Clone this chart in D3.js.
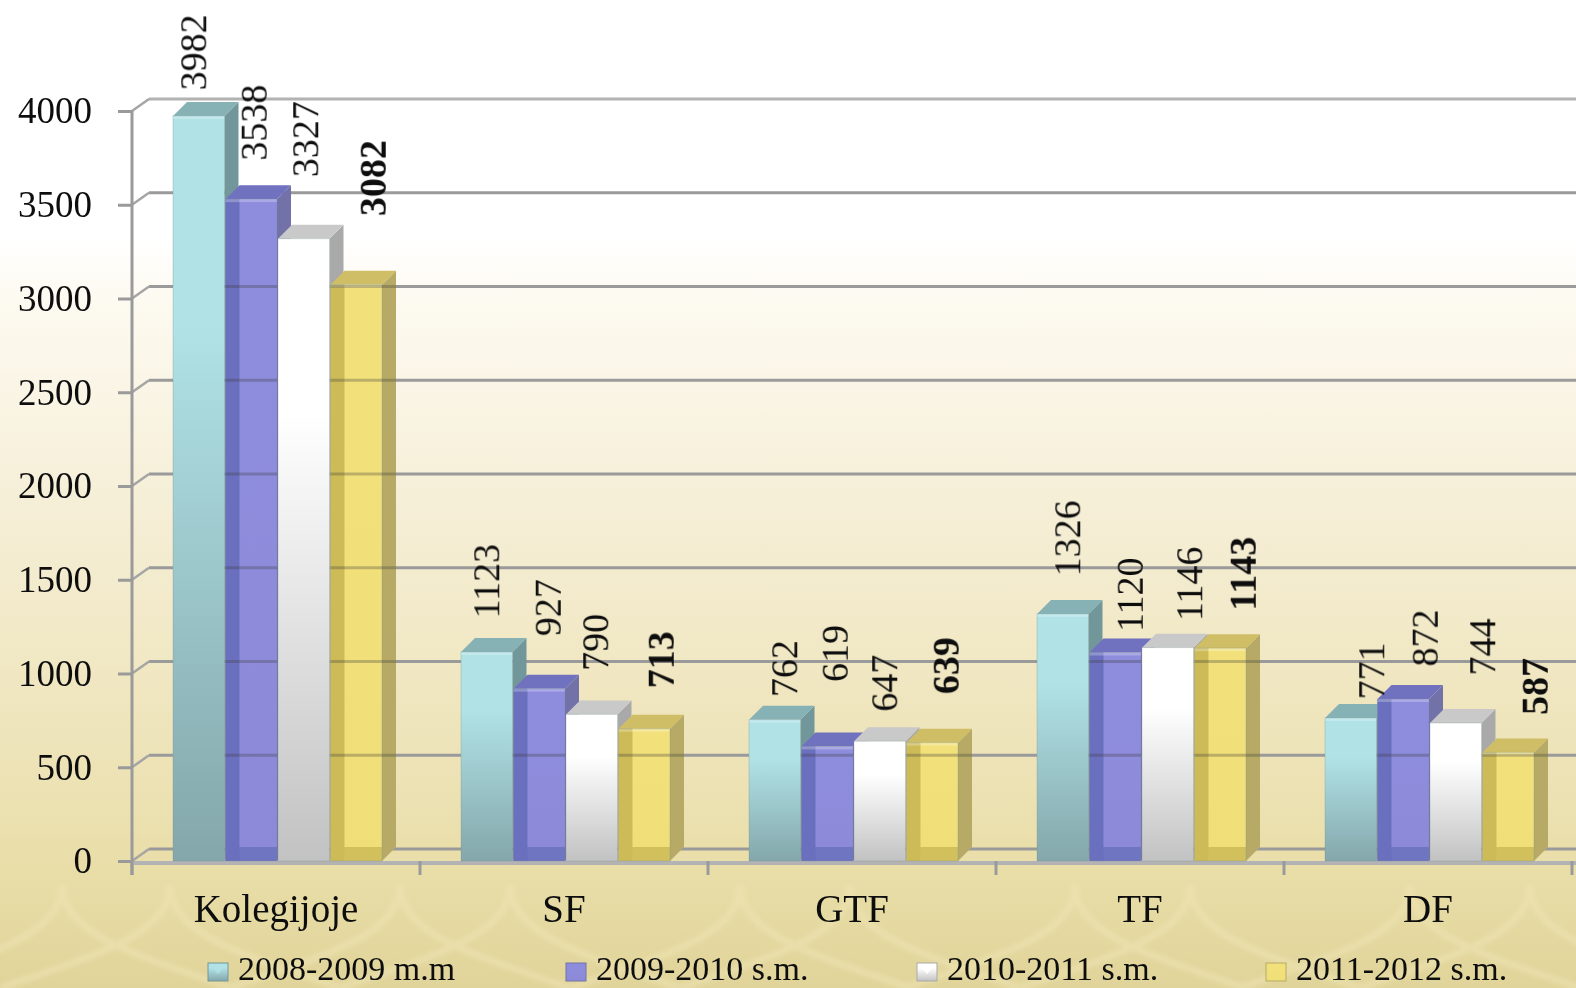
<!DOCTYPE html>
<html><head><meta charset="utf-8">
<script src="https://cdn.jsdelivr.net/npm/d3@7/dist/d3.min.js"></script>
<style>html,body{margin:0;padding:0;background:#fff;overflow:hidden}svg{display:block}text{font-family:"Liberation Serif",serif;fill:#111}</style>
</head><body><svg id="c" width="1576" height="988"></svg>
<script>
const categories=["Kolegijoje","SF","GTF","TF","DF"];
const seriesNames=["2008-2009 m.m","2009-2010 s.m.","2010-2011 s.m.","2011-2012 s.m."];
const values2008=[3982,1123,762,1326,771];
const values2009=[3538,927,619,1120,872];
const values2010=[3327,790,647,1146,744];
const values2011=[3082,713,639,1143,587];
const yTicks=[0,500,1000,1500,2000,2500,3000,3500,4000];
const allValues=[values2008,values2009,values2010,values2011];

// layout only: hand-placed label nudges as in the reference (per series, per category)
const labelDx=[[-6,-1,9,4,20],[2,8,7,14,21],[1,3,4,21,26],[16,16,13,22,26]];
const labelGap=[[10,18,7,22,3],[23,37,49,5,17],[46,28,14,11,32],[53,25,33,22,22]];
const looks=[
 {top:"#86b2b5",side:"#72979a",strip:null,a:"#b0e2e6",b:"#84a7ab"},
 {top:"#6f71bf",side:"#7372a8",strip:"#6a70bd",a:"#8e8cdc",b:"#8c8ad8"},
 {top:"#c9c9c9",side:"#a9a9a9",strip:null,a:"#ffffff",b:"#c2c2c2"},
 {top:"#cfbe66",side:"#b7aa66",strip:"#cdbb58",a:"#f2e07a",b:"#f0de78",bold:true}
];

const svg=d3.select("#c"), W=1576, H=988;
const defs=svg.append("defs");
const bg=defs.append("linearGradient").attr("id","bg").attr("x1",0).attr("x2",0).attr("y1",0).attr("y2",1);
[[0,"#ffffff"],[.24,"#ffffff"],[.3,"#fdfaf1"],[.5,"#f6efd8"],[.75,"#eee4ba"],[.88,"#e9dea8"],[1,"#e0d49a"]]
 .forEach(s=>bg.append("stop").attr("offset",s[0]).attr("stop-color",s[1]));
looks.forEach((l,i)=>{
 const g=defs.append("linearGradient").attr("id","f"+i).attr("x1",0).attr("x2",0).attr("y1",0).attr("y2",1);
 g.append("stop").attr("offset",0).attr("stop-color",l.a);
 g.append("stop").attr("offset",.28).attr("stop-color",l.a);
 g.append("stop").attr("offset",1).attr("stop-color",l.b);
});
const mkBlur=(id,sd)=>defs.append("filter").attr("id",id).attr("x","-5%").attr("y","-5%").attr("width","110%").attr("height","110%").append("feGaussianBlur").attr("stdDeviation",sd);
mkBlur("soft",.55); mkBlur("barSoft",.7); mkBlur("wide",2.2);

svg.append("rect").attr("width",W).attr("height",H).attr("fill","url(#bg)");

// faint gothic-arch backdrop pattern
const arches=svg.append("g").attr("fill","none").attr("stroke","#f0e6b6").attr("stroke-width",7).attr("opacity",.5).attr("filter","url(#wide)");
[170,510,850,1190,1530,62,400,740,1075,1410].forEach(x=>{
 arches.append("path").attr("d",`M${x} 885 C${x} 935 ${x-75} 955 ${x-170} 988`);
 arches.append("path").attr("d",`M${x} 885 C${x} 935 ${x+75} 955 ${x+170} 988`);
});

const y=d3.scaleLinear().domain([0,4000]).range([861,111]);
const x0=d3.scaleBand().domain(categories).range([132,1572]);
const x1=d3.scaleBand().domain(seriesNames).range([41,251]);
const dx=17, dy=-12, bdx=14, bdy=-14, barDrop=1.5;

// walls and axes
const grid=svg.append("g");
grid.selectAll("line.g").data(yTicks).join("line").attr("class","g")
 .attr("x1",132+dx).attr("x2",W).attr("y1",d=>y(d)+dy).attr("y2",d=>y(d)+dy)
 .attr("stroke",d=>d===4000?"#b2b2b2":"#9a9a9a").attr("stroke-width",3);
grid.selectAll("line.d").data(yTicks).join("line").attr("class","d")
 .attr("x1",132).attr("x2",132+dx).attr("y1",d=>y(d)).attr("y2",d=>y(d)+dy)
 .attr("stroke","#a5a5a5").attr("stroke-width",2.5);

const yAxis=d3.axisLeft(y).tickValues(yTicks).tickSize(14).tickPadding(26).tickFormat(d3.format("d"));
const xAxis=d3.axisBottom(x0).tickSize(0).tickPadding(31);
const ya=svg.append("g").attr("transform","translate(132,0)").call(yAxis);
ya.select(".domain").attr("stroke","#9a9a9a").attr("stroke-width",3).attr("d",`M0,${y(4000)}V875`);
ya.selectAll(".tick line").attr("stroke","#9a9a9a").attr("stroke-width",3);
ya.selectAll(".tick text").attr("font-size",37).attr("font-family","Liberation Serif").attr("fill","#111").attr("filter","url(#soft)");

const floorAxis=svg.append("g").attr("transform","translate(0,863)").call(xAxis);
floorAxis.select(".domain").attr("stroke","#b3b3b3").attr("stroke-width",4).attr("d",`M132,0H${W}`);
floorAxis.selectAll(".tick text").attr("font-size",39).attr("font-family","Liberation Serif").attr("fill","#111").attr("dy","0.71em").attr("filter","url(#soft)");
svg.append("g").selectAll("line").data(categories.concat([null])).join("line")
 .attr("x1",(d,i)=>132+i*x0.step()).attr("x2",(d,i)=>132+i*x0.step()).attr("y1",861).attr("y2",875)
 .attr("stroke","#9a9a9a").attr("stroke-width",3);

// bars
const barsG=svg.append("g").attr("filter","url(#barSoft)");
const seeThrough=defs.append("clipPath").attr("id","seeThrough");
seriesNames.forEach((s,si)=>{
 const l=looks[si], g=barsG.append("g");
 categories.forEach((c,ci)=>{
  const v=allValues[si][ci], L=x0(c)+x1(s), w=x1.bandwidth()-1, T=y(v)+barDrop, B=y(0);
  const R=L+w;
  g.append("path").attr("fill",l.side).attr("d",`M${R} ${T}L${R+bdx} ${T+bdy}V${B+bdy}L${R} ${B}Z`);
  g.append("path").attr("fill",l.top).attr("d",`M${L} ${T}L${L+bdx} ${T+bdy}H${R+bdx}L${R} ${T}Z`);
  g.append("rect").attr("x",L).attr("y",T).attr("width",w).attr("height",B-T).attr("fill",`url(#f${si})`);
  if(l.strip){
   g.append("rect").attr("x",L).attr("y",T).attr("width",bdx).attr("height",B-T).attr("fill",l.strip);
   g.append("path").attr("fill",l.strip).attr("fill-opacity",.85).attr("d",`M${L} ${B}L${L+bdx} ${B+bdy}H${R}V${B}Z`);
   seeThrough.append("rect").attr("x",L).attr("y",T).attr("width",si===3?w+bdx:w).attr("height",B-T);
  }
  g.append("rect").attr("x",L).attr("y",T).attr("width",w).attr("height",3).attr("fill","#fff").attr("fill-opacity",.25);
  g.append("rect").attr("x",L).attr("y",T).attr("width",w).attr("height",B-T).attr("fill","none").attr("stroke","#6f8f92").attr("stroke-opacity",.3);
 });
});
// grid lines showing through the translucent purple and gold bars
barsG.append("g").attr("clip-path","url(#seeThrough)").selectAll("line").data(yTicks.filter(d=>d>0)).join("line")
 .attr("x1",132+dx).attr("x2",W).attr("y1",d=>y(d)+dy).attr("y2",d=>y(d)+dy)
 .attr("stroke","#3a3a3a").attr("stroke-opacity",.3).attr("stroke-width",3);

// value labels
const labels=svg.append("g");
seriesNames.forEach((s,si)=>categories.forEach((c,ci)=>{
 const v=allValues[si][ci];
 const cx=x0(c)+x1(s)+x1.bandwidth()/2+labelDx[si][ci];
 const by=y(v)+bdy-labelGap[si][ci];
 labels.append("text").attr("transform",`translate(${cx+13},${by}) rotate(-90)`)
  .attr("font-size",38).attr("font-weight",looks[si].bold?"bold":"normal").attr("filter","url(#soft)").text(v);
}));

// legend
const legendX=d3.scaleOrdinal().domain(seriesNames).range([208,566,917,1266]);
const legend=svg.append("g");
seriesNames.forEach((s,i)=>{
 const l=looks[i], X=legendX(s), g=legend.append("g");
 g.append("rect").attr("x",X).attr("y",963).attr("width",20).attr("height",18).attr("fill",`url(#f${i})`).attr("stroke",l.side).attr("stroke-width",1);
 g.append("path").attr("d",`M${X+1} 964H${X+19}L${X+10} 974Z`).attr("fill",l.a).attr("fill-opacity",.85);
 g.append("text").attr("x",X+30).attr("y",980).attr("font-size",34).attr("filter","url(#soft)").text(s);
});
</script></body></html>
